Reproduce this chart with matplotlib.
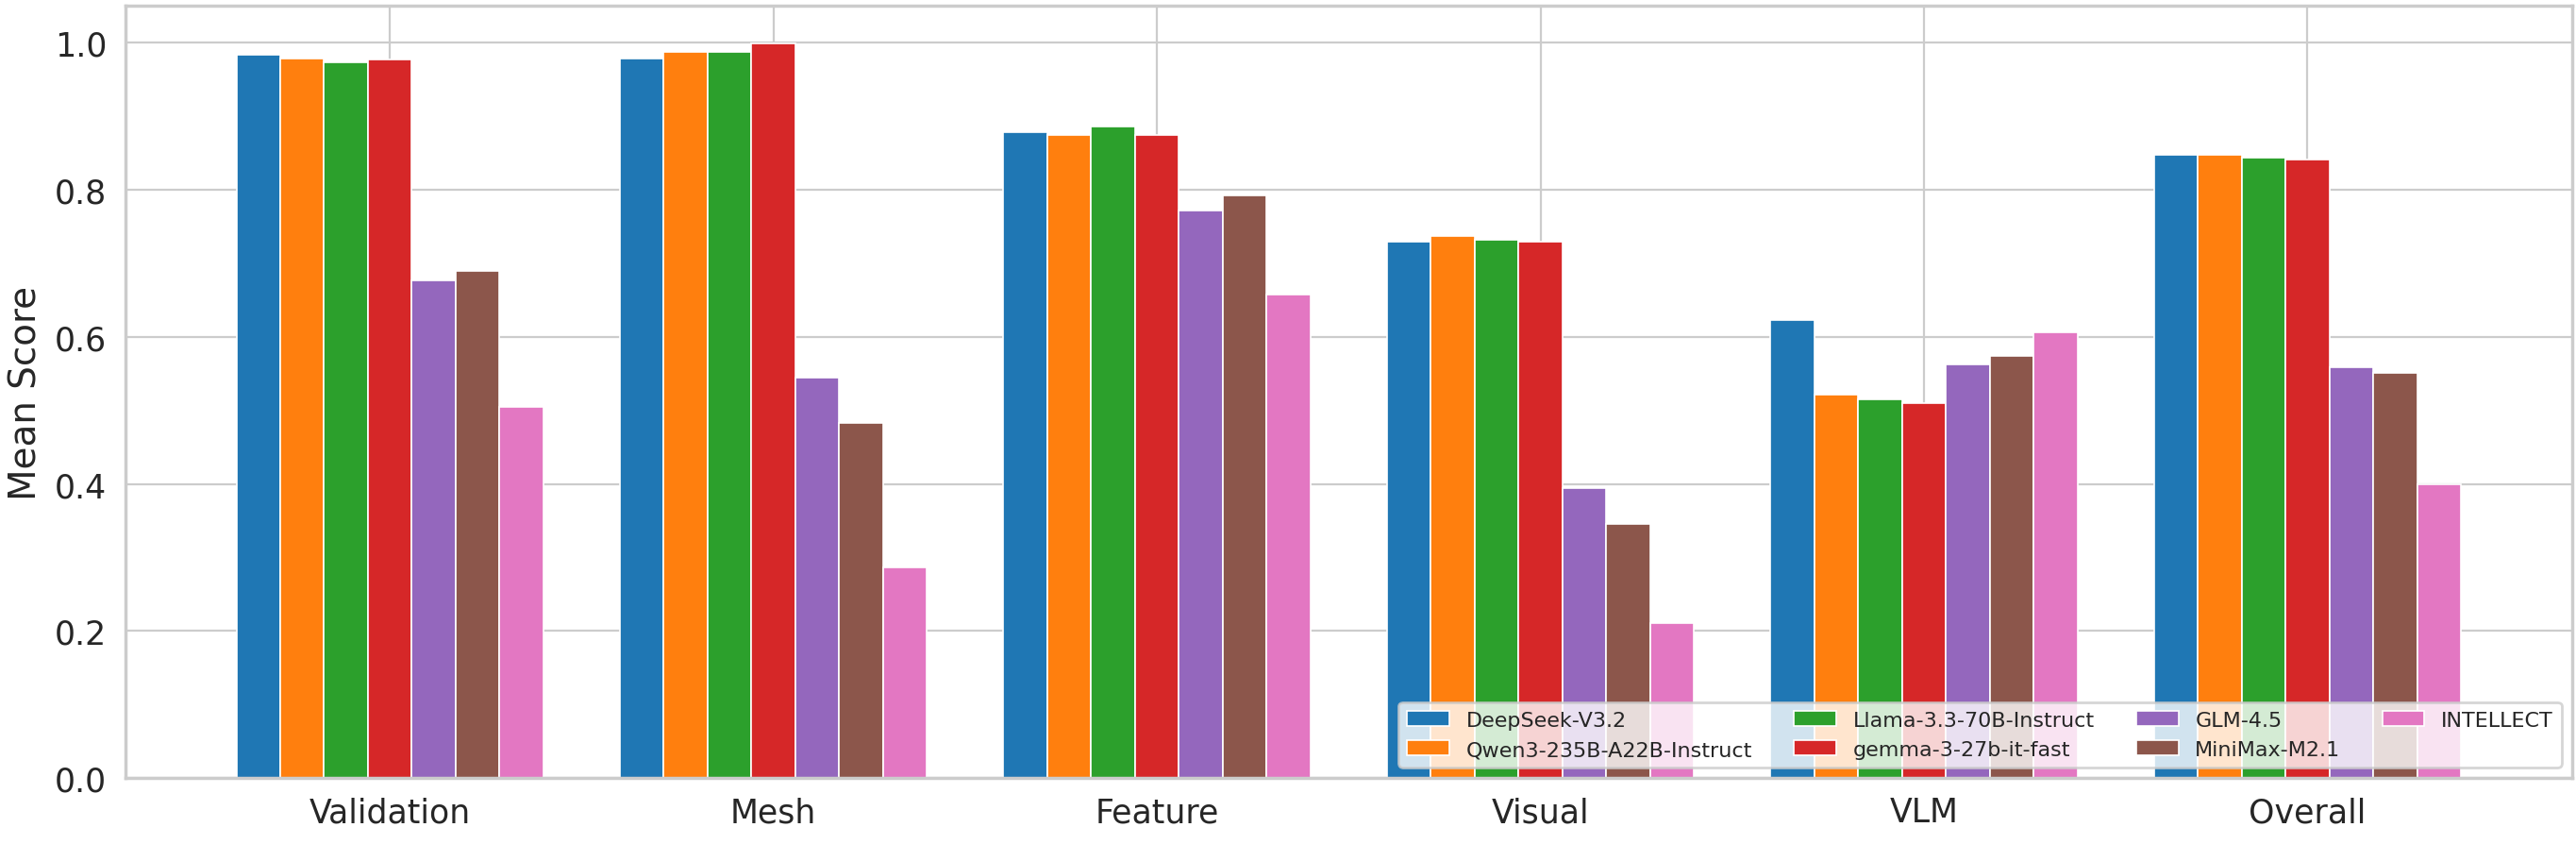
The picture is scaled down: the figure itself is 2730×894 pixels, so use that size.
import numpy as np
import matplotlib
matplotlib.use("Agg")
import matplotlib.pyplot as plt
import seaborn as sns

# Données
categories = ["Validation", "Mesh", "Feature", "Visual", "VLM", "Overall"]
modeles = ["DeepSeek-V3.2", "Qwen3-235B-A22B-Instruct", "Llama-3.3-70B-Instruct",
           "gemma-3-27b-it-fast", "GLM-4.5", "MiniMax-M2.1", "INTELLECT"]

deepseek = [0.984, 0.978, 0.878, 0.729, 0.623, 0.848]
qwen = [0.979, 0.988, 0.875, 0.737, 0.521, 0.848]
llama = [0.974, 0.988, 0.886, 0.732, 0.515, 0.844]
gemma = [0.977, 0.999, 0.875, 0.729, 0.510, 0.841]
glm = [0.677, 0.545, 0.772, 0.394, 0.563, 0.559]
minimax = [0.690, 0.483, 0.793, 0.345, 0.574, 0.551]
intellect = [0.505, 0.287, 0.657, 0.211, 0.606, 0.399]

scores = [deepseek, qwen, llama, gemma, glm, minimax, intellect]

sns.set_style("whitegrid")
plt.rcParams['font.family'] = ['DejaVu Sans']

fig, ax = plt.subplots(figsize=(13.65, 4.475), dpi=200)
fig.subplots_adjust(left=0.0486, right=0.9985, bottom=0.0782, top=0.9917)

x = np.arange(len(categories))
largeur = 0.8 / len(modeles)
couleurs = plt.cm.tab10.colors

for i, (nom, vals) in enumerate(zip(modeles, scores)):
    decalage = (i - (len(modeles) - 1) / 2) * largeur
    ax.bar(x + decalage, vals, largeur, label=nom, color=couleurs[i],
           edgecolor="white", linewidth=0.6)

ax.set_xticks(x)
ax.set_xticklabels(categories, fontsize=12.5)
ax.tick_params(axis="y", labelsize=12.5)
ax.set_ylabel("Mean Score", fontsize=14)
ax.set_ylim(0, 1.05)
ax.set_axisbelow(True)
for s in ax.spines.values():
    s.set_linewidth(1.25)
    s.set_color("0.8")

ax.legend(loc="lower right", ncol=4, fontsize=8)

plt.savefig("out.png", dpi=200)
